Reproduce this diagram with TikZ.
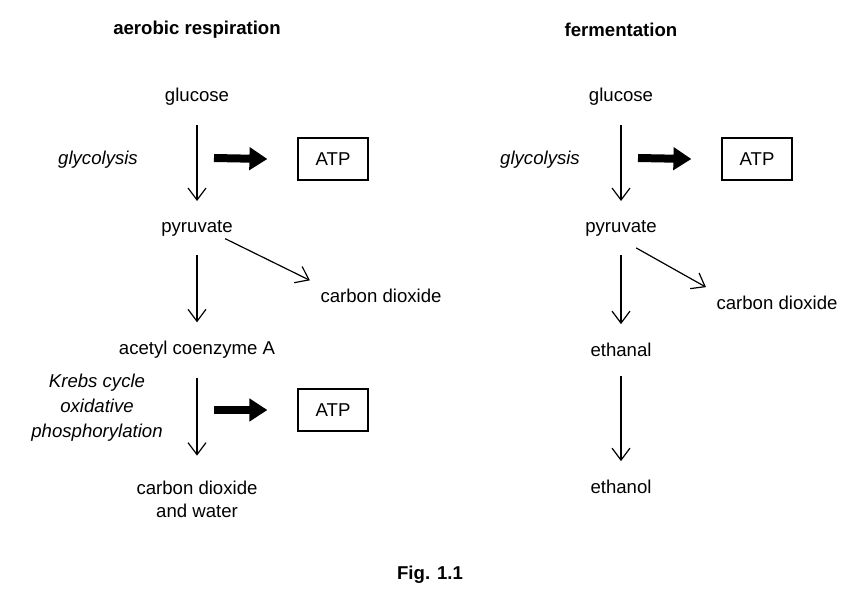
\documentclass[tikz,border=0pt]{standalone}
\usepackage{fontspec}
\setmainfont{Liberation Sans}
\usetikzlibrary{arrows.meta,positioning}
\begin{document}
\begin{tikzpicture}[x=0.5pt, y=-0.5pt, font=\fontsize{9.3}{11.5}\selectfont]
		\useasboundingbox (0,0) rectangle (860,605);
		\tikzset{
			flow/.style={-{Straight Barb[length=6pt,width=9pt]}, line width=0.6pt, shorten <=6pt, shorten >=6pt},
			yield/.style={-{Triangle[length=9pt,width=11pt]}, line width=4pt},
			atpbox/.style={draw, line width=0.6pt, minimum width=35pt, minimum height=21pt}
		}
		% aerobic respiration
		\node[font=\fontsize{9.3}{11.5}\selectfont\bfseries] (titleA) at (197,30) {aerobic respiration};
		\node (glcA) at (197,97) {glucose};
		\node (pyrA) at (197,228) {pyruvate};
		\node (co2A) at (381,296) {carbon dioxide};
		\node (acoA) at (197,350) {acetyl coenzyme A};
		\node[align=center] (endA) at (197,499) {carbon dioxide\\and water};
		\node[font=\fontsize{9.3}{11.5}\selectfont\itshape] (glyA) at (98,160) {glycolysis};
		\node[align=center, font=\fontsize{9.3}{12.5}\selectfont\itshape] (krebs) at (97,408) {Krebs cycle\\oxidative\\phosphorylation};
		\node[atpbox] (atpA1) at (333,159) {ATP};
		\node[atpbox] (atpA2) at (333,410) {ATP};
		\coordinate (yA1) at (214,158);
		\coordinate (yA2) at (214,410);
		% fermentation
		\node[font=\fontsize{9.3}{11.5}\selectfont\bfseries] (titleF) at (621,30) {fermentation};
		\node (glcF) at (621,97) {glucose};
		\node (pyrF) at (621,228) {pyruvate};
		\node (co2F) at (777,303) {carbon dioxide};
		\node (ethF) at (621,350) {ethanal};
		\node (eolF) at (621,487) {ethanol};
		\node[font=\fontsize{9.3}{11.5}\selectfont\itshape] (glyF) at (540,160) {glycolysis};
		\node[atpbox] (atpF) at (757,159) {ATP};
		\coordinate (yF) at (638,158);
		% caption
		\node[font=\fontsize{9.3}{11.5}\selectfont\bfseries] (fig) at (430,575) {Fig. 1.1};
		% arrows
		\draw[flow] (glcA) -- (pyrA);
		\draw[flow] (pyrA) -- (acoA);
		\draw[flow, shorten <=3pt, shorten >=2pt] (pyrA.east) ++(-20,8) coordinate (dA) -- (co2A.north west);
		\draw[flow, shorten >=9pt] (acoA) -- (endA);
		\draw[flow] (glcF) -- (pyrF);
		\draw[flow] (pyrF) -- (ethF);
		\draw[flow, shorten <=3pt, shorten >=2pt] (pyrF.south) ++(10,2) coordinate (dF) -- (co2F.north west);
		\draw[flow] (ethF) -- (eolF);
		\draw[yield] (yA1) -- ([xshift=-15]atpA1.west);
		\draw[yield] (yA2) -- ([xshift=-15]atpA2.west);
		\draw[yield] (yF) -- ([xshift=-15]atpF.west);
	\end{tikzpicture}
\end{document}
